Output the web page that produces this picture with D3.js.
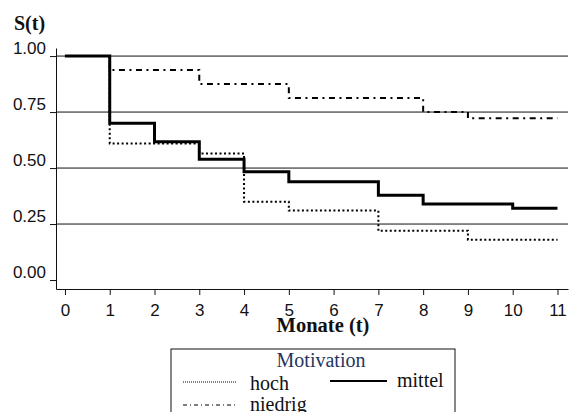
<!DOCTYPE html>
<html>
<head>
<meta charset="utf-8">
<script src="https://cdn.jsdelivr.net/npm/d3@7"></script>
<style>
  html, body { margin: 0; padding: 0; background: #fff; }
  svg { display: block; }
</style>
</head>
<body>
<svg id="chart" width="571" height="412"></svg>
<script>
// Kaplan-Meier survival estimates by motivation group (step functions)
const months = [0, 1, 2, 3, 4, 5, 6, 7, 8, 9, 10, 11];
const yTicks = [0, 0.25, 0.5, 0.75, 1.0];
const gridValues = [0.25, 0.5, 0.75, 1.0];

const hochTimes = [0, 1, 3, 4, 5, 7, 9];
const hochSurv  = [1.00, 0.61, 0.565, 0.35, 0.31, 0.22, 0.18];

const mittelTimes = [0, 1, 2, 3, 4, 5, 7, 8, 10];
const mittelSurv  = [1.00, 0.70, 0.617, 0.539, 0.484, 0.439, 0.379, 0.339, 0.32];

const niedrigTimes = [0, 1, 3, 5, 8, 9];
const niedrigSurv  = [1.00, 0.9375, 0.875, 0.8125, 0.75, 0.722];

const endTime = 11;

const svg = d3.select("#chart");

const x = d3.scaleLinear().domain([-0.2, 11.235]).range([56, 568]);
const y = d3.scaleLinear().domain([-0.04, 1.036]).range([289, 48]);

// horizontal reference lines
svg.append("g").selectAll("line").data(gridValues).join("line")
  .attr("x1", x(-0.2)).attr("x2", x(11.235))
  .attr("y1", d => y(d)).attr("y2", d => y(d))
  .attr("stroke", "#111").attr("stroke-width", 1);

// axes
const xAxis = svg.append("g")
  .attr("transform", `translate(0,${y(-0.04)})`)
  .call(d3.axisBottom(x).tickValues(months).tickFormat(d3.format("d"))
        .tickSize(6).tickSizeOuter(0).tickPadding(9));
xAxis.selectAll("text")
  .attr("font-family", "'Liberation Sans', Arial, sans-serif")
  .attr("font-size", 17).attr("fill", "#111");

const yAxis = svg.append("g")
  .attr("transform", `translate(${x(-0.2)},0)`)
  .call(d3.axisLeft(y).tickValues(yTicks).tickFormat(d3.format(".2f"))
        .tickSize(6).tickSizeOuter(0).tickPadding(4));
yAxis.selectAll("text")
  .attr("dy", null).attr("y", -3)
  .attr("font-family", "'Liberation Sans', Arial, sans-serif")
  .attr("font-size", 17).attr("fill", "#111");

svg.selectAll(".domain, .tick line").attr("stroke", "#111").attr("stroke-width", 1);

// step paths
function stepPoints(times, surv) {
  const pts = times.map((t, i) => [t, surv[i]]);
  pts.push([endTime, surv[surv.length - 1]]);
  return pts;
}
const line = d3.line().x(d => x(d[0])).y(d => y(d[1])).curve(d3.curveStepAfter);

const series = [
  { name: "niedrig", pts: stepPoints(niedrigTimes, niedrigSurv), width: 2, dash: "6,4.5,2,4.5" },
  { name: "hoch",    pts: stepPoints(hochTimes, hochSurv),       width: 2, dash: "2,2.5" },
  { name: "mittel",  pts: stepPoints(mittelTimes, mittelSurv),   width: 3, dash: null }
];

svg.append("g").selectAll("path").data(series).join("path")
  .attr("d", d => line(d.pts))
  .attr("fill", "none")
  .attr("stroke", "#000")
  .attr("stroke-width", d => d.width)
  .attr("stroke-dasharray", d => d.dash);

// axis titles
svg.append("text")
  .attr("x", 14).attr("y", 30)
  .attr("font-family", "'Liberation Serif', 'Times New Roman', serif")
  .attr("font-weight", "bold").attr("font-size", 20)
  .attr("fill", "#111")
  .text("S(t)");

svg.append("text")
  .attr("x", 323).attr("y", 332)
  .attr("text-anchor", "middle")
  .attr("font-family", "'Liberation Serif', 'Times New Roman', serif")
  .attr("font-weight", "bold").attr("font-size", 20.5)
  .attr("fill", "#111")
  .text("Monate (t)");

// legend
const legend = svg.append("g");
legend.append("rect")
  .attr("x", 171).attr("y", 349).attr("width", 284).attr("height", 80)
  .attr("fill", "#fff").attr("stroke", "#111").attr("stroke-width", 1);

const serif = "'Liberation Serif', 'Times New Roman', serif";
legend.append("text")
  .attr("x", 321).attr("y", 367).attr("text-anchor", "middle")
  .attr("font-family", serif).attr("font-size", 20)
  .attr("fill", "#26355f")
  .text("Motivation");

const legendItems = [
  { label: "hoch",    x1: 183, x2: 237, ly: 382, tx: 250, ty: 390, width: 1, dash: "1,1" },
  { label: "mittel",  x1: 330, x2: 387, ly: 381, tx: 397, ty: 387, width: 2, dash: null },
  { label: "niedrig", x1: 183, x2: 237, ly: 405, tx: 250, ty: 411, width: 1, dash: "4,3,1,3" }
];
legend.selectAll("line.key").data(legendItems).join("line")
  .attr("class", "key")
  .attr("x1", d => d.x1).attr("x2", d => d.x2)
  .attr("y1", d => d.ly).attr("y2", d => d.ly)
  .attr("stroke", "#000").attr("stroke-width", d => d.width)
  .attr("stroke-dasharray", d => d.dash);
legend.selectAll("text.lab").data(legendItems).join("text")
  .attr("class", "lab")
  .attr("x", d => d.tx).attr("y", d => d.ty)
  .attr("font-family", serif).attr("font-size", 20)
  .attr("fill", "#111")
  .text(d => d.label);
</script>
</body>
</html>
